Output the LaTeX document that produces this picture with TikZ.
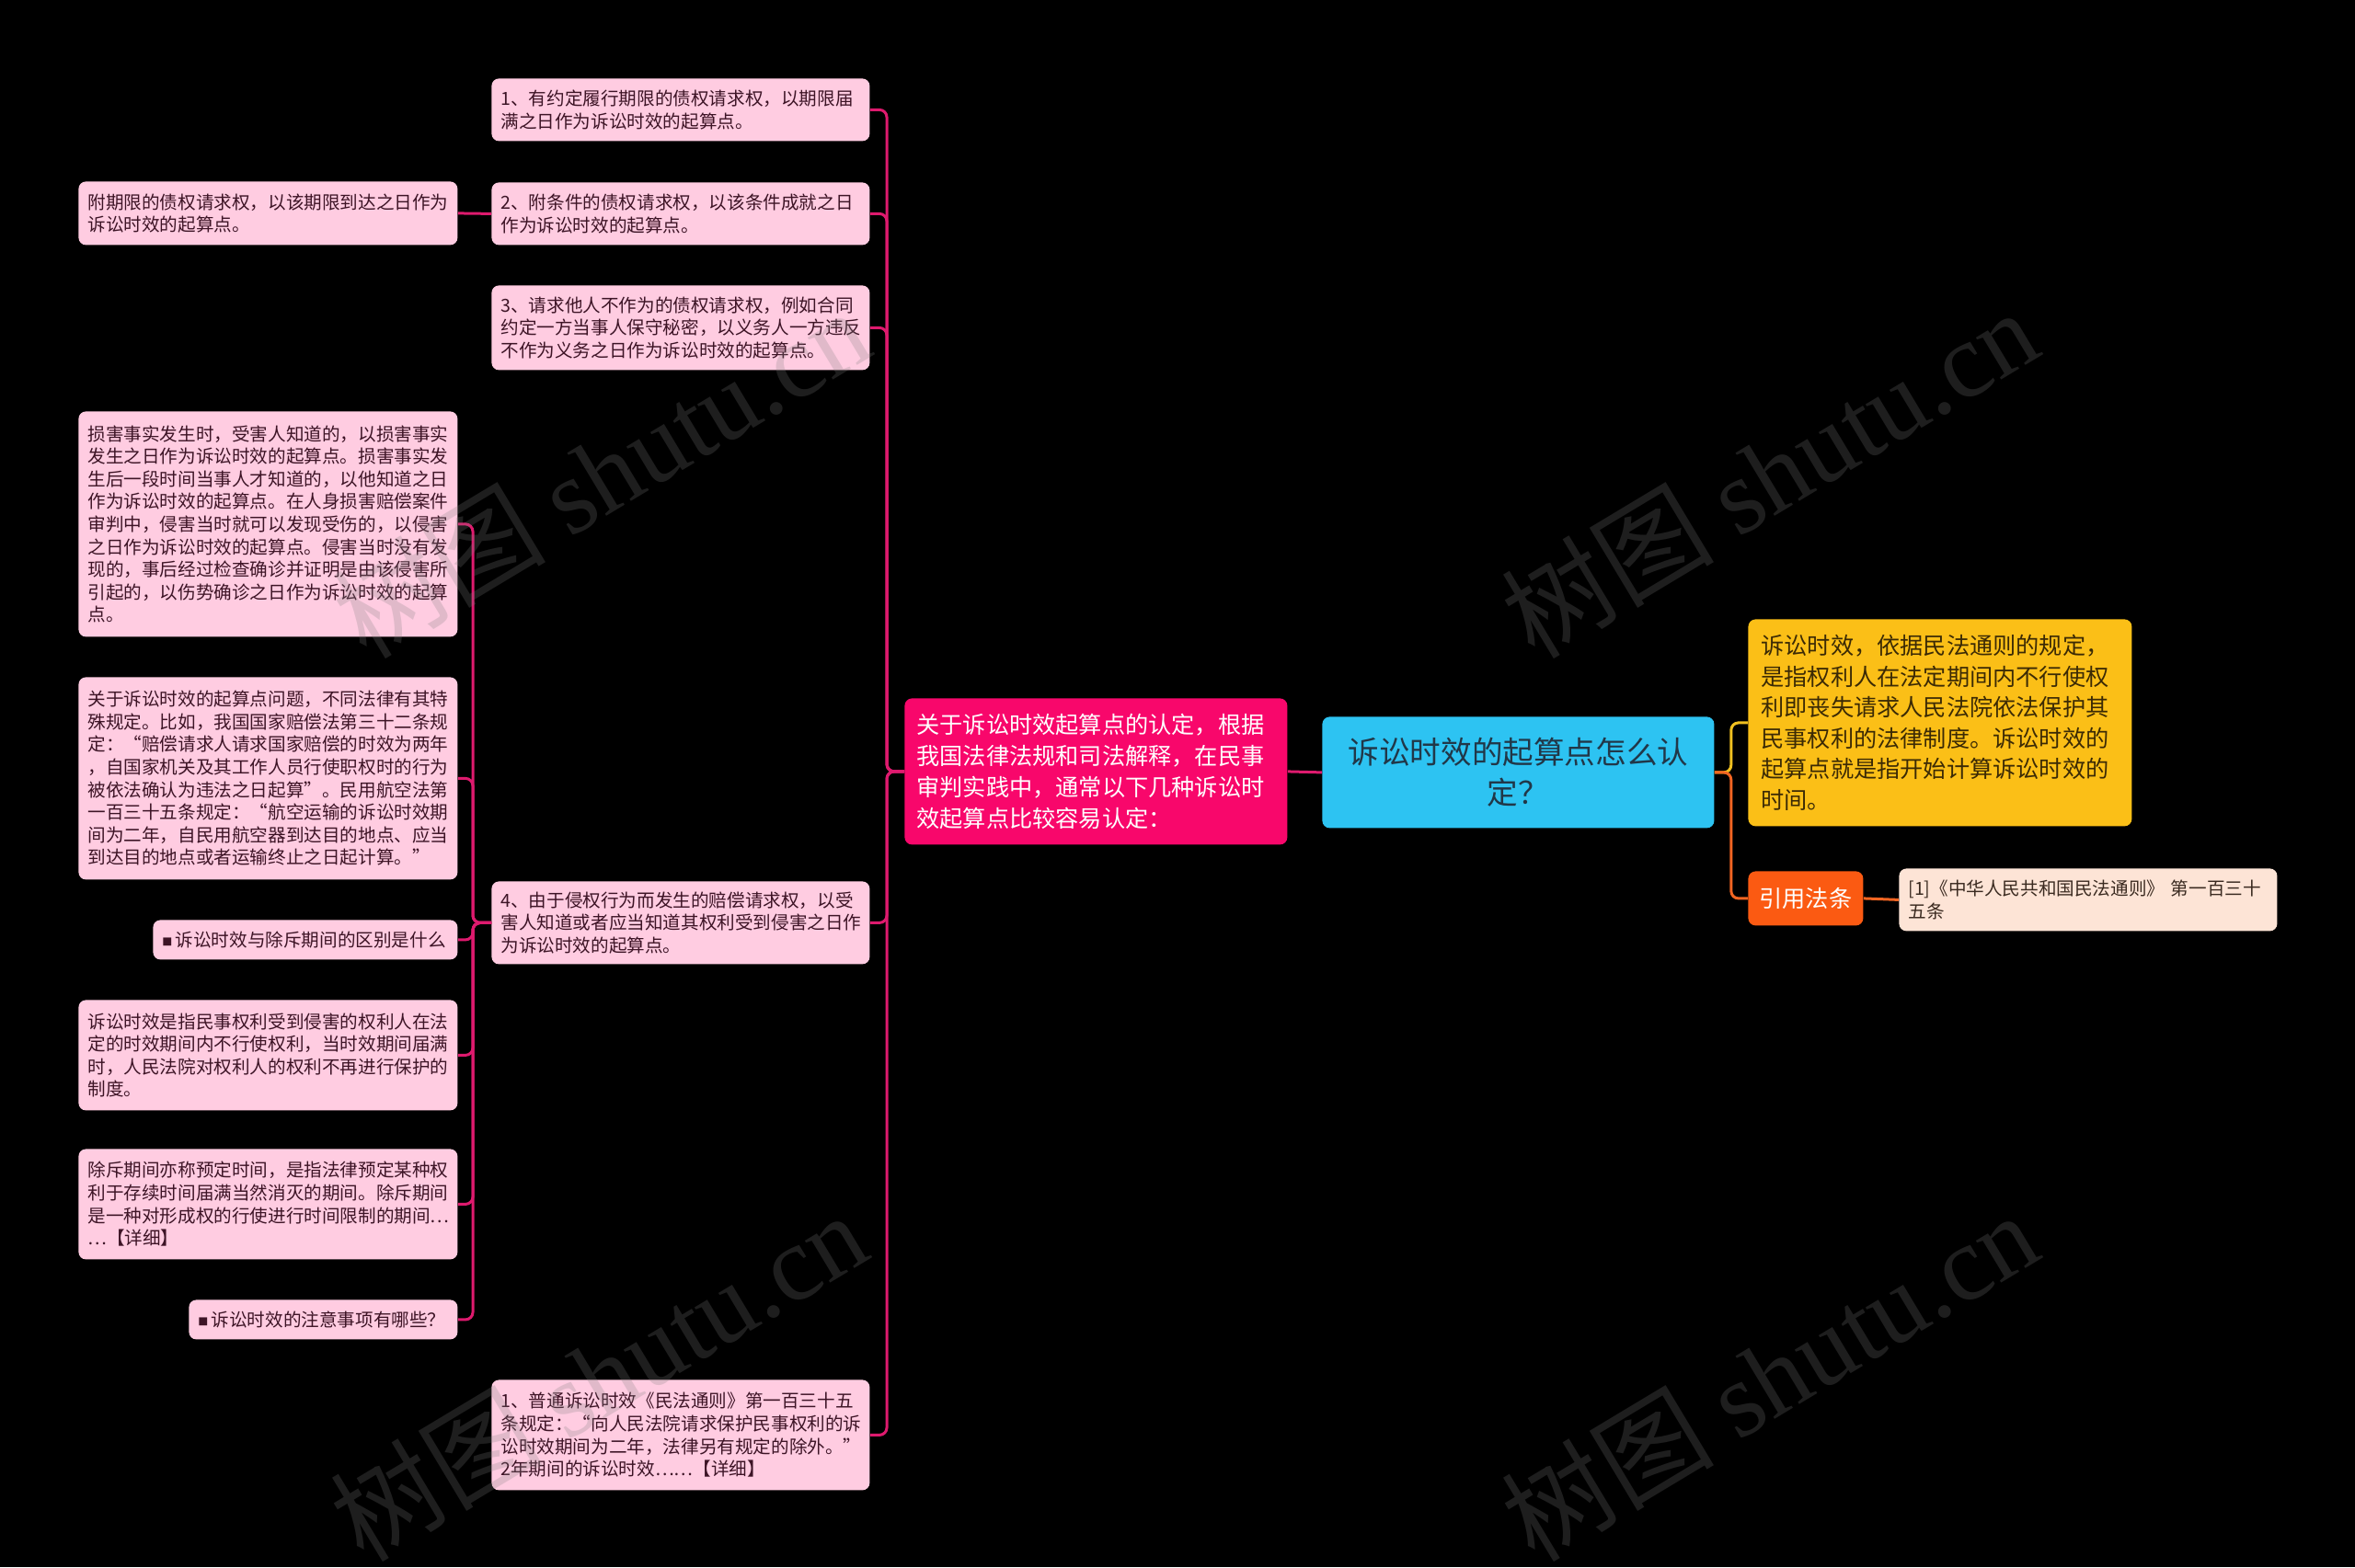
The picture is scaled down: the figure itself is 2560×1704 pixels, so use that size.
\documentclass[tikz,border=0pt]{standalone}
\usepackage{fontspec}
\setmainfont{Noto Sans CJK SC}
\newfontfamily\wmserif{Liberation Serif}
\definecolor{pinkfill}{HTML}{FFCCE1}
\definecolor{pinktext}{HTML}{3D1426}
\definecolor{connpink}{HTML}{DE1A6E}
\definecolor{mainpink}{HTML}{F8076B}
\definecolor{rootblue}{HTML}{2DC3F2}
\definecolor{roottext}{HTML}{213748}
\definecolor{yellowfill}{HTML}{FBBF17}
\definecolor{yellowtext}{HTML}{3B2A05}
\definecolor{yellowline}{HTML}{F0C020}
\definecolor{orangefill}{HTML}{FB5A12}
\definecolor{orangeline}{HTML}{F26522}
\definecolor{citefill}{HTML}{FDE4D6}
\definecolor{citetext}{HTML}{3A2A20}
\definecolor{wmgray}{HTML}{808080}
\tikzset{
  box/.style={rounded corners=4pt, anchor=north west, inner xsep=5pt, inner ysep=0pt, align=left},
  lbox/.style={box, fill=pinkfill, text=pinktext, font=\fontsize{9.8pt}{12.3pt}\selectfont},
  conn/.style={draw=connpink, line width=1.5pt, rounded corners=4pt},
  yconn/.style={draw=yellowline, line width=1.5pt, rounded corners=4pt},
  oconn/.style={draw=orangeline, line width=1.5pt, rounded corners=4pt},
  wm/.style={text=wmgray, text opacity=0.24, rotate=31, font=\fontsize{58pt}{58pt}\selectfont}
}
\newcommand{\sqb}{{\fontsize{5.5pt}{5.5pt}\selectfont\raisebox{0.6pt}{■}}\,}
\begin{document}
\begin{tikzpicture}[x=0.5pt,y=-0.5pt]
\fill[black] (0,0) rectangle (2560,1704);
\useasboundingbox (0,0) rectangle (2560,1704);

% root
\node[box, fill=rootblue, text=roottext, align=center, minimum width=213pt, minimum height=60.5pt, text width=200pt,
  font=\fontsize{16.8pt}{22pt}\selectfont] (root) at (1437,779) {诉讼时效的起算点怎么认\\定？};

% main pink
\node[box, fill=mainpink, text=white, inner xsep=6.5pt, minimum width=208pt, minimum height=79.5pt, text width=195pt,
  font=\fontsize{12.6pt}{16.9pt}\selectfont] (main) at (983,759)
  {关于诉讼时效起算点的认定，根据\\我国法律法规和司法解释，在民事\\审判实践中，通常以下几种诉讼时\\效起算点比较容易认定：};

% right side
\node[box, fill=yellowfill, text=yellowtext, inner xsep=7pt, minimum width=208.5pt, minimum height=112.5pt, text width=194.5pt,
  font=\fontsize{12.6pt}{16.8pt}\selectfont] (yel) at (1900,673)
  {诉讼时效，依据民法通则的规定，\\是指权利人在法定期间内不行使权\\利即丧失请求人民法院依法保护其\\民事权利的法律制度。诉讼时效的\\起算点就是指开始计算诉讼时效的\\时间。};
\node[box, fill=orangefill, text=white, align=center, inner xsep=0pt, minimum width=62.5pt, minimum height=29.5pt, text width=62.5pt,
  font=\fontsize{12.6pt}{16pt}\selectfont] (ref) at (1900,947) {引用法条};
\node[box, fill=citefill, text=citetext, minimum width=205.5pt, minimum height=34pt, text width=195.5pt,
  font=\fontsize{9.8pt}{12.3pt}\selectfont] (cite) at (2064,944)
  {[1]《中华人民共和国民法通则》~第一百三十\\五条};

% level 2
\node[lbox, minimum width=205.5pt, minimum height=34pt, text width=195.5pt] (b1) at (534,85)
  {1、有约定履行期限的债权请求权，以期限届\\满之日作为诉讼时效的起算点。};
\node[lbox, minimum width=205.5pt, minimum height=34pt, text width=195.5pt] (b2) at (534,198)
  {2、附条件的债权请求权，以该条件成就之日\\作为诉讼时效的起算点。};
\node[lbox, minimum width=205.5pt, minimum height=46pt, text width=195.5pt] (b3) at (534,310)
  {3、请求他人不作为的债权请求权，例如合同\\约定一方当事人保守秘密，以义务人一方违反\\不作为义务之日作为诉讼时效的起算点。};
\node[lbox, minimum width=205.5pt, minimum height=45pt, text width=195.5pt] (b4) at (534,958)
  {4、由于侵权行为而发生的赔偿请求权，以受\\害人知道或者应当知道其权利受到侵害之日作\\为诉讼时效的起算点。};
\node[lbox, minimum width=205.5pt, minimum height=60pt, text width=195.5pt] (b5) at (534,1500)
  {1、普通诉讼时效《民法通则》第一百三十五\\条规定：“向人民法院请求保护民事权利的诉\\讼时效期间为二年，法律另有规定的除外。”\\2年期间的诉讼时效……【详细】};

% level 3
\node[lbox, minimum width=206pt, minimum height=34.5pt, text width=196pt] (a1) at (85,197)
  {附期限的债权请求权，以该期限到达之日作为\\诉讼时效的起算点。};
\node[lbox, minimum width=206pt, minimum height=122.5pt, text width=196pt] (c1) at (85,447)
  {损害事实发生时，受害人知道的，以损害事实\\发生之日作为诉讼时效的起算点。损害事实发\\生后一段时间当事人才知道的，以他知道之日\\作为诉讼时效的起算点。在人身损害赔偿案件\\审判中，侵害当时就可以发现受伤的，以侵害\\之日作为诉讼时效的起算点。侵害当时没有发\\现的，事后经过检查确诊并证明是由该侵害所\\引起的，以伤势确诊之日作为诉讼时效的起算\\点。};
\node[lbox, minimum width=206pt, minimum height=110pt, text width=196pt] (c2) at (85,736)
  {关于诉讼时效的起算点问题，不同法律有其特\\殊规定。比如，我国国家赔偿法第三十二条规\\定：“赔偿请求人请求国家赔偿的时效为两年\\，自国家机关及其工作人员行使职权时的行为\\被依法确认为违法之日起算”。民用航空法第\\一百三十五条规定：“航空运输的诉讼时效期\\间为二年，自民用航空器到达目的地点、应当\\到达目的地点或者运输终止之日起计算。”};
\node[lbox, minimum width=165.5pt, minimum height=21.5pt, text width=155.5pt] (c3) at (166,1000)
  {\sqb 诉讼时效与除斥期间的区别是什么};
\node[lbox, minimum width=206pt, minimum height=60pt, text width=196pt] (c4) at (85,1087)
  {诉讼时效是指民事权利受到侵害的权利人在法\\定的时效期间内不行使权利，当时效期间届满\\时，人民法院对权利人的权利不再进行保护的\\制度。};
\node[lbox, minimum width=206pt, minimum height=60pt, text width=196pt] (c5) at (85,1249)
  {除斥期间亦称预定时间，是指法律预定某种权\\利于存续时间届满当然消灭的期间。除斥期间\\是一种对形成权的行使进行时间限制的期间…\\…【详细】};
\node[lbox, minimum width=146pt, minimum height=21.5pt, text width=136pt] (c6) at (205,1413)
  {\sqb 诉讼时效的注意事项有哪些？};

% connectors
\draw[conn] (root.west) -- (main.east);
\foreach \n in {b1,b2,b3,b4,b5}{
  \draw[conn] (main.west) -- ++(-19,0) |- (\n.east);
}
\draw[conn] (b2.west) -- (a1.east);
\foreach \n in {c1,c2,c3,c4,c5,c6}{
  \draw[conn] (b4.west) -- ++(-20,0) |- (\n.east);
}
\draw[yconn] (root.east) -- ++(18,0) |- (yel.west);
\draw[oconn] (root.east) -- ++(18,0) |- (ref.west);
\draw[oconn] (ref.east) -- (cite.west);

% watermarks
\node[wm] (wm1) at (653,514) {树图 {\wmserif shutu.cn}};
\node[wm] (wm2) at (1923,514) {树图 {\wmserif shutu.cn}};
\node[wm] (wm3) at (650,1496) {树图 {\wmserif shutu.cn}};
\node[wm] (wm4) at (1923,1496) {树图 {\wmserif shutu.cn}};
\end{tikzpicture}
\end{document}
